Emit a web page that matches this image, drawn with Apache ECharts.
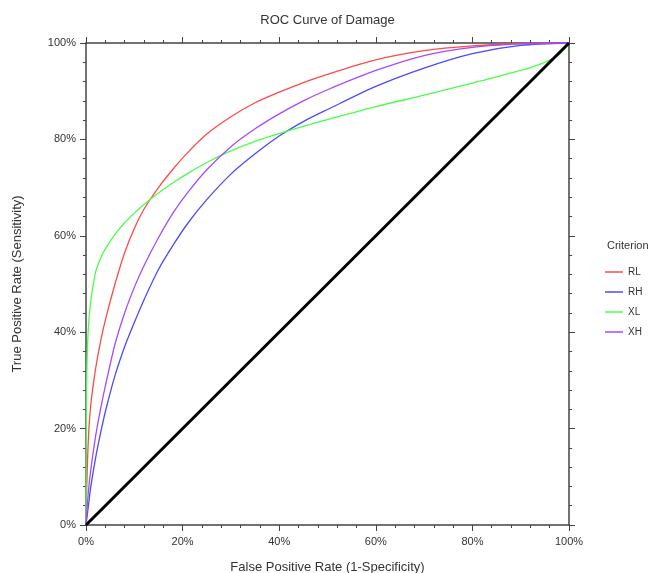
<!DOCTYPE html>
<html>
<head>
<meta charset="utf-8">
<script src="https://cdn.jsdelivr.net/npm/echarts@6/dist/echarts.min.js"></script>
<style>html,body{margin:0;padding:0;background:#fff}#c{width:655px;height:573px}</style>
</head>
<body>
<div id="c"></div>
<script>
var seriesNames = ['RL', 'RH', 'XL', 'XH'];
var seriesColors = ['#ff4a4a', '#4a4aff', '#4aff4a', '#a64aff'];
var xTicks = ['0%', '20%', '40%', '60%', '80%', '100%'];
var RL = [[0,0],[0.1,6],[0.5,18],[1,25],[2,32.5],[3,38],[4,42.5],[6,50],[8,56.5],[10,61.5],[12,65.5],[15,70],[18,73.8],[21,77.2],[25,81.1],[30,84.7],[35,87.6],[40,89.8],[45,91.8],[50,93.5],[60,96.5],[70,98.4],[80,99.4],[90,99.9],[100,100]];
var RH = [[0,0],[0.5,4],[1,8],[2,14],[3,19],[4,23.5],[6,31],[8,37],[10,42],[12,46.7],[15,53],[18,58],[21,62.5],[25,67.5],[30,72.8],[35,77],[40,80.7],[45,83.7],[50,86.2],[60,91],[70,94.8],[80,97.8],[90,99.5],[100,100]];
var XL = [[0,0],[0.1,27],[0.25,35],[0.5,41],[1,46.5],[2,52.5],[3,55.3],[4,57.3],[6,60.3],[8,62.7],[10,64.7],[12,66.5],[15,68.9],[18,71],[21,72.9],[25,75.2],[30,77.6],[35,79.6],[40,81.2],[45,82.7],[50,84.1],[60,86.8],[70,89.2],[80,91.7],[90,94.3],[95,96],[98,97.6],[100,100]];
var XH = [[0,0],[0.5,7],[1,11.5],[2,18.5],[3,24],[4,28.8],[6,37.5],[8,44],[10,49.3],[12,53.8],[15,59.6],[18,64.7],[21,68.9],[25,73.7],[30,78.5],[35,82.2],[40,85.3],[45,88],[50,90.3],[60,94.3],[70,97.4],[80,99.1],[90,99.8],[100,100]];
var diag = [[0,0],[100,100]];
var allData = [RL, RH, XL, XH];

var chart = echarts.init(document.getElementById('c'));
var font = 'Liberation Sans, Arial, sans-serif';
function axisCommon(pos, showLabel) {
  return {
    type: 'value', position: pos, min: 0, max: 100, interval: 20,
    axisLine: {show: true, onZero: false, lineStyle: {color: '#444', width: 1.5}},
    axisTick: {show: true, length: 6, lineStyle: {color: '#444'}},
    minorTick: {show: true, splitNumber: 5, length: 3, lineStyle: {color: '#444'}},
    splitLine: {show: false},
    axisLabel: {show: showLabel, color: '#333', fontSize: 11, fontFamily: font, formatter: '{value}%'}
  };
}
var xb = axisCommon('bottom', true);
xb.name = 'False Positive Rate (1-Specificity)'; xb.nameLocation = 'middle'; xb.nameGap = 36;
xb.nameTextStyle = {color: '#333', fontSize: 13, fontFamily: font};
xb.axisLabel.margin = 11;
var xt = axisCommon('top', false);
var yl = axisCommon('left', true);
yl.name = 'True Positive Rate (Sensitivity)'; yl.nameLocation = 'middle'; yl.nameGap = 62;
yl.nameTextStyle = {color: '#333', fontSize: 13, fontFamily: font};
yl.axisLabel.margin = 10;
var yr = axisCommon('right', false);

var series = seriesNames.map(function (n, i) {
  return {name: n, type: 'line', data: allData[i], xAxisIndex: 0, yAxisIndex: 0,
    smooth: 0.3, showSymbol: false, symbol: 'none',
    lineStyle: {color: seriesColors[i], width: 1.3}, itemStyle: {color: seriesColors[i]}, z: 2};
});
series.push({name: 'diag', type: 'line', data: diag, showSymbol: false, symbol: 'none',
  lineStyle: {color: '#000', width: 3}, z: 3});

chart.setOption({
  animation: false,
  title: {text: 'ROC Curve of Damage', left: 'center', top: 9,
    textStyle: {fontSize: 13, fontWeight: 'normal', color: '#333', fontFamily: font}},
  grid: {left: 86, right: 86, top: 43, bottom: 48, containLabel: false, outerBoundsMode: 'none'},
  xAxis: [xb, xt],
  yAxis: [yl, yr],
  legend: {data: seriesNames, orient: 'vertical', left: 600, top: 261, icon: 'rect',
    itemWidth: 18, itemHeight: 1.5, itemGap: 8,
    textStyle: {fontSize: 10, color: '#333', fontFamily: font, lineHeight: 12}},
  graphic: [{type: 'text', left: 607, top: 240,
    style: {text: 'Criterion', fontSize: 11, fill: '#333', fontFamily: font}}],
  series: series
});
</script>
</body>
</html>
